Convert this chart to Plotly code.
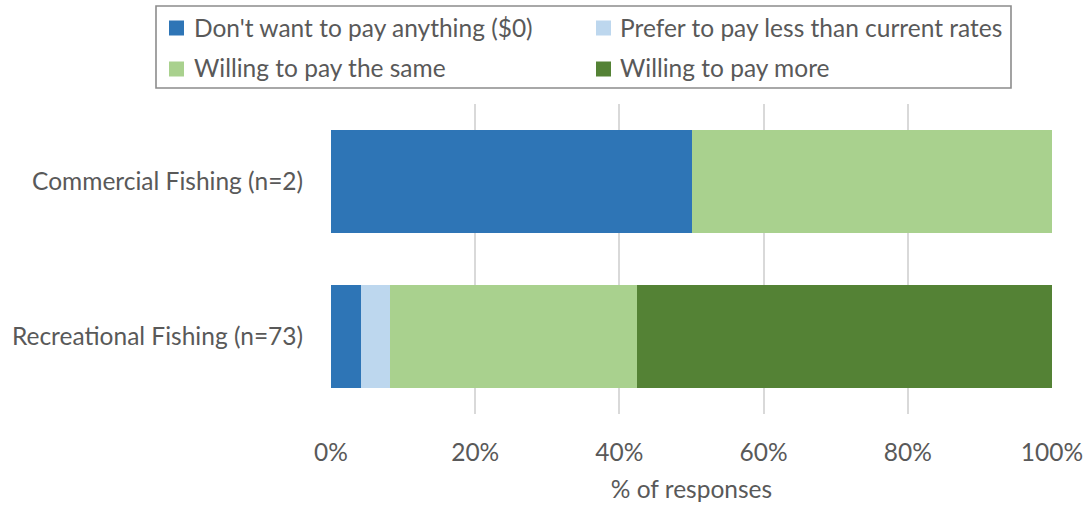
import plotly.graph_objects as go

groups = ["Commercial Fishing (n=2)", "Recreational Fishing (n=73)"]
series_names = [
    "Don't want to pay anything ($0)",
    "Prefer to pay less than current rates",
    "Willing to pay the same",
    "Willing to pay more",
]
# share of responses (fraction) per group
pay_nothing = [0.50, 0.041]
pay_less = [0.0, 0.041]
pay_same = [0.50, 0.342]
pay_more = [0.0, 0.576]
colors = ["#2E75B6", "#BDD7EE", "#A9D18E", "#548235"]
tick_vals = [0, 0.2, 0.4, 0.6, 0.8, 1.0]

values = [pay_nothing, pay_less, pay_same, pay_more]

FONT = "Lato, Calibri, sans-serif"
TEXT = "#595959"
FS = 24.5

# page and plot-area geometry (pixels)
L, R, T, B = 331, 34, 104, 91
W, H = 1086, 505
PW, PH = W - L - R, H - T - B


def px_x(p):
    return (p - L) / PW


def px_y(p):
    return (H - B - p) / PH


fig = go.Figure()
for name, vals, col in zip(series_names, values, colors):
    fig.add_trace(go.Bar(
        y=groups, x=vals, name=name, orientation="h",
        marker=dict(color=col, line=dict(width=0)),
        showlegend=False,
    ))

# legend box: 2 x 2 grid of swatches and labels
shapes = [dict(
    type="rect", xref="paper", yref="paper",
    x0=px_x(156), x1=px_x(1011), y0=px_y(88), y1=px_y(6),
    line=dict(color="#8c8c8c", width=1.6), fillcolor="rgba(0,0,0,0)",
)]
annotations = []
swatch_x = [169, 596]
label_x = [192, 618]
row_y = [28, 69]
for i, (name, col) in enumerate(zip(series_names, colors)):
    c, r = i % 2, i // 2
    sx, cy = swatch_x[c], row_y[r]
    shapes.append(dict(
        type="rect", xref="paper", yref="paper",
        x0=px_x(sx), x1=px_x(sx + 15), y0=px_y(cy + 7.5), y1=px_y(cy - 7.5),
        line=dict(width=0), fillcolor=col,
    ))
    annotations.append(dict(
        text=name, xref="paper", yref="paper",
        x=px_x(label_x[c]), y=px_y(cy - 1), xanchor="left", yanchor="middle",
        showarrow=False, font=dict(family=FONT, size=FS, color=TEXT),
    ))

fig.update_layout(
    barmode="stack",
    bargap=0.33,
    width=W, height=H,
    margin=dict(l=L, r=R, t=T, b=B),
    paper_bgcolor="white", plot_bgcolor="white",
    font=dict(family=FONT, size=FS, color=TEXT),
    shapes=shapes,
    annotations=annotations,
    xaxis=dict(
        range=[0, 1], tickvals=tick_vals,
        tickformat=".0%", showgrid=True, gridcolor="#D9D9D9", gridwidth=1.5,
        zeroline=False, showline=False, automargin=False,
        ticks="outside", ticklen=17, tickcolor="white",
        title=dict(text="% of responses", standoff=15,
                   font=dict(family=FONT, size=FS, color=TEXT)),
        tickfont=dict(family=FONT, size=FS, color=TEXT),
    ),
    yaxis=dict(
        categoryorder="array", categoryarray=groups, autorange="reversed",
        showgrid=False, zeroline=False, showline=False, automargin=False,
        ticks="outside", ticklen=22, tickcolor="white",
        tickfont=dict(family=FONT, size=FS, color=TEXT),
    ),
)

fig.write_html("out.html")
